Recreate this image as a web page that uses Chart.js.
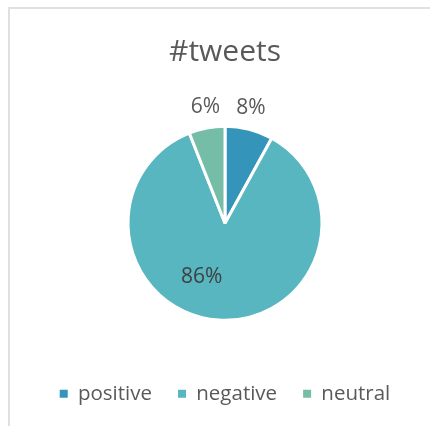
<!DOCTYPE html>
<html>
<head>
<meta charset="utf-8">
<title>#tweets</title>
<script src="https://cdn.jsdelivr.net/npm/chart.js@4.4.1/dist/chart.umd.min.js"></script>
<style>
  html, body { margin: 0; padding: 0; background: #fff; overflow: hidden; }
  #wrap { position: relative; width: 430px; height: 426px; overflow: hidden; }
  .edge { position: absolute; background: #e0e0e0; }
  #edgeTop { left: 8px; top: 7px; width: 430px; height: 2px; }
  #edgeLeft { left: 8px; top: 7px; width: 2px; height: 430px; }
  #tweetChart { position: absolute; left: 0; top: 0; }
</style>
</head>
<body>
<div id="wrap">
  <div class="edge" id="edgeTop"></div>
  <div class="edge" id="edgeLeft"></div>
  <canvas id="tweetChart" width="430" height="426"></canvas>
</div>
<script>
// sentiment split of the tweets, in percent
const sentiments = ["positive", "negative", "neutral"];
const shares = [8, 86, 6];
const sliceColors = ["#3494BA", "#58B6C0", "#75BDA7"];

const FONT = "'Open Sans', sans-serif";
const TEXT = "#595959";

// draws "NN%" on each slice: small ones outside the rim, big ones inside
const sliceLabels = {
  id: "sliceLabels",
  afterDatasetsDraw(chart) {
    const { ctx } = chart;
    const meta = chart.getDatasetMeta(0);
    ctx.save();
    ctx.font = "21px " + FONT;
    ctx.textAlign = "center";
    ctx.textBaseline = "middle";
    meta.data.forEach((arc, i) => {
      const v = shares[i];
      const { x, y, startAngle, endAngle, outerRadius } = arc.getProps(
        ["x", "y", "startAngle", "endAngle", "outerRadius"], true);
      let mid = (startAngle + endAngle) / 2;
      let r;
      if (v < 15) {
        // angle measured from 12 o'clock, pulled a little toward the top
        let rel = mid + Math.PI / 2;
        if (rel > Math.PI) rel -= 2 * Math.PI;
        mid = -Math.PI / 2 + rel * 0.88;
        r = outerRadius + 21;
        ctx.fillStyle = TEXT;
      } else {
        r = outerRadius * 0.6;
        mid += 0.35;
        ctx.fillStyle = "#404040";
      }
      ctx.fillText(v + "%", x + Math.cos(mid) * r, y + Math.sin(mid) * r);
    });
    ctx.restore();
  }
};

new Chart(document.getElementById("tweetChart"), {
  type: "pie",
  data: {
    labels: sentiments,
    datasets: [{
      data: shares,
      backgroundColor: sliceColors,
      borderColor: "#ffffff",
      borderWidth: 3,
      radius: 97
    }]
  },
  options: {
    responsive: false,
    animation: false,
    layout: { padding: { top: 0, bottom: 12, left: 20, right: 0 } },
    plugins: {
      title: {
        display: true,
        text: "#tweets",
        color: TEXT,
        font: { family: FONT, size: 30, weight: "normal" },
        padding: { top: 34, bottom: 19 }
      },
      legend: {
        position: "bottom",
        labels: {
          color: TEXT,
          font: { family: FONT, size: 20.5 },
          boxWidth: 8,
          boxHeight: 8,
          padding: 26,
          // plain filled squares, no white slice border around them
          generateLabels(chart) {
            const items = Chart.overrides.pie.plugins.legend.labels.generateLabels(chart);
            items.forEach(it => { it.lineWidth = 0; it.strokeStyle = "rgba(0,0,0,0)"; });
            return items;
          }
        }
      },
      tooltip: { enabled: false }
    }
  },
  plugins: [sliceLabels]
});
</script>
</body>
</html>
